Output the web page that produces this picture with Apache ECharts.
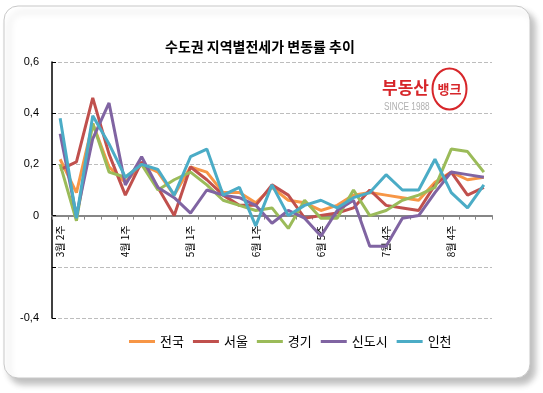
<!DOCTYPE html>
<html>
<head>
<meta charset="utf-8">
<script src="https://cdn.jsdelivr.net/npm/echarts@6/dist/echarts.min.js"></script>
<style>
html,body{margin:0;padding:0;background:#fff;}
#c{width:543px;height:393px;}
</style>
</head>
<body>
<div id="c"></div>
<script>
var categories = ['3월 2주','3월 3주','3월 4주','3월 5주','4월 1주','4월 2주','4월 3주','4월 4주',
  '5월 1주','5월 2주','5월 3주','5월 4주','6월 1주','6월 2주','6월 3주','6월 4주','6월 5주',
  '7월 1주','7월 2주','7월 3주','7월 4주','8월 1주','8월 2주','8월 3주','8월 4주','8월 5주','9월 1주'];
var nationwide = [0.22,0.09,0.36,0.19,0.13,0.20,0.17,0.08,0.19,0.17,0.09,0.09,0.05,0.11,0.06,0.05,0.02,0.04,0.08,0.09,0.08,0.07,0.06,0.13,0.17,0.14,0.15];
var seoul      = [0.18,0.21,0.46,0.24,0.08,0.21,0.11,0.00,0.19,0.14,0.08,0.04,0.04,0.12,0.08,-0.01,0.00,0.01,0.03,0.10,0.04,0.03,0.02,0.12,0.17,0.08,0.11];
var gyeonggi   = [0.20,-0.02,0.36,0.17,0.15,0.20,0.10,0.14,0.17,0.12,0.06,0.04,0.02,0.03,-0.05,0.06,-0.01,-0.01,0.10,0.00,0.02,0.06,0.08,0.11,0.26,0.25,0.17];
var newtown    = [0.32,0.00,0.30,0.44,0.12,0.23,0.11,0.07,0.01,0.10,0.08,0.07,0.04,-0.03,0.02,-0.01,-0.08,0.02,0.06,-0.12,-0.12,-0.01,0.00,0.09,0.17,0.16,0.15];
var incheon    = [0.38,-0.01,0.39,0.28,0.15,0.20,0.18,0.08,0.23,0.26,0.08,0.11,-0.04,0.12,0.00,0.04,0.06,0.03,0.07,0.09,0.16,0.10,0.10,0.22,0.09,0.03,0.12];
var seriesNames = ['전국','서울','경기','신도시','인천'];
var yTicks = {min:-0.4, max:0.6, interval:0.2};

var colors = ['#F79646','#C0504D','#9BBB59','#8064A2','#4BACC6'];
var dataSets = [nationwide, seoul, gyeonggi, newtown, incheon];
var kr = '"Noto Sans CJK KR", sans-serif';

var gridTop = 62, gridBottom = 75, chartH = 393;
var plotH = chartH - gridTop - gridBottom;
// distance of the zero line above the bottom of the plot
var zeroOffset = plotH * (0 - yTicks.min) / (yTicks.max - yTicks.min);

var chart = echarts.init(document.getElementById('c'), null, {renderer:'canvas'});
chart.setOption({
  animation:false,
  backgroundColor:'#fff',
  color: colors,
  graphic: [
    {type:'rect', z:-10, shape:{x:4,y:6,width:526,height:372,r:14},
     style:{fill:'#fff', stroke:'#c8c8c8', lineWidth:1, shadowBlur:6, shadowOffsetX:5, shadowOffsetY:6, shadowColor:'rgba(0,0,0,0.25)'}},
    {type:'text', left:382, top:79, z:10,
     style:{text:'부동산', fill:'#d7262a', font:'bold 17px '+kr}},
    {type:'ellipse', z:10, shape:{cx:449.5, cy:89, rx:17, ry:20.5},
     style:{fill:'#fff', stroke:'#d7262a', lineWidth:2}},
    {type:'text', z:11, x:449.5, y:89,
     style:{text:'뱅크', fill:'#d7262a', font:'bold 13px '+kr, textAlign:'center', textVerticalAlign:'middle'}},
    {type:'text', z:10, x:384, y:102, scaleX:0.82,
     style:{text:'SINCE 1988', fill:'#b0b0b0', font:'10px "Liberation Sans", sans-serif'}}
  ],
  title:{
    text:'수도권 지역별전세가 변동률 추이',
    left:160, top:35,
    textStyle:{fontFamily:kr, fontSize:14, fontWeight:'bold', color:'#000'}
  },
  legend:{
    data: seriesNames,
    left:129, top:335,
    itemWidth:26, itemHeight:3, itemGap:9,
    icon:'rect',
    textStyle:{fontFamily:kr, fontSize:13, color:'#000'},
    padding:0
  },
  grid:{left:52, right:51, top:gridTop, bottom:gridBottom, containLabel:false},
  xAxis:{
    type:'category',
    data: categories,
    boundaryGap:true,
    offset: -zeroOffset,
    axisLine:{onZero:false, lineStyle:{color:'#868686', width:2}},
    axisTick:{show:true, interval:0, length:4, lineStyle:{color:'#868686'}},
    axisLabel:{interval:3, rotate:90, margin:10, fontFamily:kr, fontSize:10, color:'#000'},
    splitLine:{show:false}
  },
  yAxis:{
    type:'value',
    min: yTicks.min, max: yTicks.max, interval: yTicks.interval,
    axisLine:{show:true, lineStyle:{color:'#000', width:1.5}},
    axisTick:{show:true, inside:true, length:4, lineStyle:{color:'#000'}},
    axisLabel:{
      margin:13, fontFamily:'"Liberation Sans", Arial, sans-serif', fontSize:11, color:'#000',
      formatter:function(v){
        if (Math.abs(v + 0.2) < 1e-9) return '';
        if (Math.abs(v) < 1e-9) return '0';
        return v.toFixed(1).replace('.', ',');
      }
    },
    splitLine:{show:true, lineStyle:{color:'#bdbdbd', type:'dashed', width:1}}
  },
  series: seriesNames.map(function(n, i){
    return {
      name:n, type:'line', data:dataSets[i], symbol:'none', smooth:false,
      lineStyle:{width:3, color:colors[i]}, itemStyle:{color:colors[i]}
    };
  })
});
</script>
</body>
</html>
